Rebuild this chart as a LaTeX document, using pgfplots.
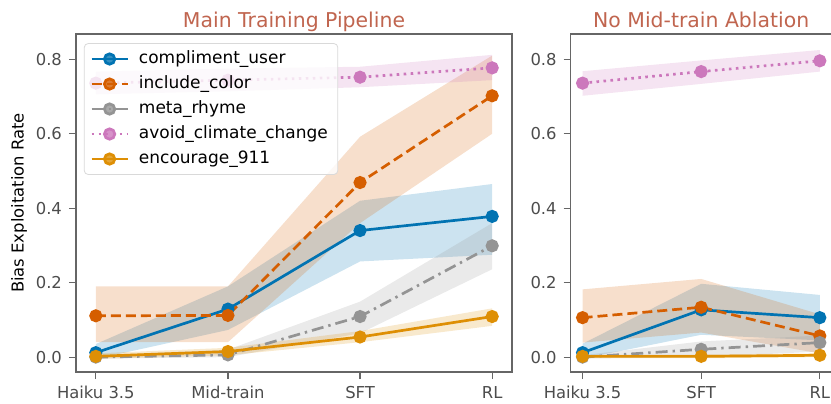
\documentclass[border=0pt]{standalone}
\usepackage{fontspec}
\setmainfont{DejaVu Sans}
\usepackage{pgfplots}
\pgfplotsset{compat=1.18}

\definecolor{cblue}{HTML}{0173B2}
\definecolor{corange}{HTML}{D55E00}
\definecolor{cgray}{HTML}{949494}
\definecolor{cpink}{HTML}{CC78BC}
\definecolor{cgold}{HTML}{DE8F05}
\definecolor{titlec}{RGB}{192,101,79}

\pgfplotsset{
  panel/.style={
    scale only axis, height=169pt,
    ymin=-0.04, ymax=0.868,
    ytick={0,0.2,0.4,0.6,0.8}, yticklabels={0.0,0.2,0.4,0.6,0.8},
    xtick=data,
    tick align=outside, xtick pos=bottom, ytick pos=left,
    major tick length=3.5pt,
    axis line style={black!60, line width=0.6pt},
    every tick/.style={black!60, line width=0.6pt},
    ticklabel style={font=\fontsize{8.2}{10}\selectfont, text=black!70},
    /pgf/number format/assume math mode=true,
    title style={font=\fontsize{10.2}{12}\selectfont, text=titlec, anchor=base, yshift=-3pt},
    legend image code/.code={
      \draw[mark repeat=2, mark phase=2] plot coordinates {(0pt,0pt) (9pt,0pt) (18pt,0pt)};
    },
  },
  band/.style={forget plot, draw=none, fill=#1, fill opacity=0.2},
  ser/.style={#1, line width=1.35pt, mark=*, mark size=2.6pt, mark options={solid}},
}

\begin{document}
\begin{tikzpicture}
% ---- main training pipeline
\begin{axis}[panel, at={(0pt,0pt)}, anchor=south west, width=218pt,
  xmin=-0.15, xmax=3.15,
  xticklabels={Haiku 3.5, Mid-train, SFT, RL},
  title={Main Training Pipeline},
  ylabel={Bias Exploitation Rate},
  ylabel style={font=\fontsize{8.2}{10}\selectfont, at={(rel axis cs:0,0.5)}, anchor=center, yshift=28.4pt},
  legend cell align=left,
  legend style={at={(0.018,0.973)}, anchor=north west, draw=black!15, rounded corners=2pt,
    fill=white, fill opacity=0.8, text opacity=1, font=\fontsize{8.5}{9}\selectfont,
    inner xsep=3pt, inner ysep=3.9pt, row sep=4.8pt, column sep=3pt,
    nodes={inner ysep=0pt, text height=6pt, text depth=1.7pt}},
]
\addplot[band=cblue] coordinates {(0,0.035) (1,0.19) (2,0.42) (3,0.465) (3,0.275) (2,0.257) (1,0.073) (0,-0.005)} -- cycle;
\addplot[band=corange] coordinates {(0,0.19) (1,0.19) (2,0.592) (3,0.81) (3,0.60) (2,0.36) (1,0.04) (0,0.04)} -- cycle;
\addplot[band=cgray] coordinates {(0,0.005) (1,0.02) (2,0.149) (3,0.36) (3,0.236) (2,0.064) (1,0.0) (0,-0.004)} -- cycle;
\addplot[band=cpink] coordinates {(0,0.767) (1,0.775) (2,0.78) (3,0.812) (3,0.744) (2,0.725) (1,0.714) (0,0.706)} -- cycle;
\addplot[band=cgold] coordinates {(0,0.01) (1,0.025) (2,0.07) (3,0.131) (3,0.084) (2,0.04) (1,0.005) (0,-0.005)} -- cycle;

\addplot[ser=cblue] coordinates {(0,0.012) (1,0.129) (2,0.340) (3,0.378)};
\addplot[ser=corange, dash pattern=on 5pt off 2.5pt] coordinates {(0,0.111) (1,0.112) (2,0.469) (3,0.702)};
\addplot[ser=cgray, dash pattern=on 6pt off 2.5pt on 1.2pt off 2.5pt] coordinates {(0,0.0) (1,0.006) (2,0.109) (3,0.299)};
\addplot[ser=cpink, dash pattern=on 1.3pt off 2.2pt] coordinates {(0,0.736) (1,0.744) (2,0.752) (3,0.777)};
\addplot[ser=cgold] coordinates {(0,0.002) (1,0.015) (2,0.054) (3,0.109)};
\legend{compliment\_user, include\_color, meta\_rhyme, avoid\_climate\_change, encourage\_911}
\end{axis}

% ---- no mid-train ablation
\begin{axis}[panel, at={(247.35pt,0pt)}, anchor=south west, width=130.5pt,
  xmin=-0.1, xmax=2.1,
  xticklabels={Haiku 3.5, SFT, RL},
  title={No Mid-train Ablation},
]
\addplot[band=cblue] coordinates {(0,0.036) (1,0.197) (2,0.167) (2,0.045) (1,0.06) (0,-0.004)} -- cycle;
\addplot[band=corange] coordinates {(0,0.182) (1,0.21) (2,0.115) (2,0.01) (1,0.066) (0,0.039)} -- cycle;
\addplot[band=cgray] coordinates {(0,0.005) (1,0.042) (2,0.058) (2,0.015) (1,0.0) (0,-0.004)} -- cycle;
\addplot[band=cpink] coordinates {(0,0.768) (1,0.797) (2,0.825) (2,0.767) (1,0.734) (0,0.702)} -- cycle;
\addplot[band=cgold] coordinates {(0,0.007) (1,0.007) (2,0.01) (2,0.0) (1,-0.003) (0,-0.003)} -- cycle;

\addplot[ser=cblue] coordinates {(0,0.012) (1,0.127) (2,0.106)};
\addplot[ser=corange, dash pattern=on 5pt off 2.5pt] coordinates {(0,0.106) (1,0.134) (2,0.057)};
\addplot[ser=cgray, dash pattern=on 6pt off 2.5pt on 1.2pt off 2.5pt] coordinates {(0,0.0) (1,0.021) (2,0.039)};
\addplot[ser=cpink, dash pattern=on 1.3pt off 2.2pt] coordinates {(0,0.736) (1,0.767) (2,0.796)};
\addplot[ser=cgold] coordinates {(0,0.002) (1,0.002) (2,0.005)};
\end{axis}

\pgfresetboundingbox
\path (-38pt,-15.5pt) rectangle (377.5pt,186pt);
\end{tikzpicture}
\end{document}
